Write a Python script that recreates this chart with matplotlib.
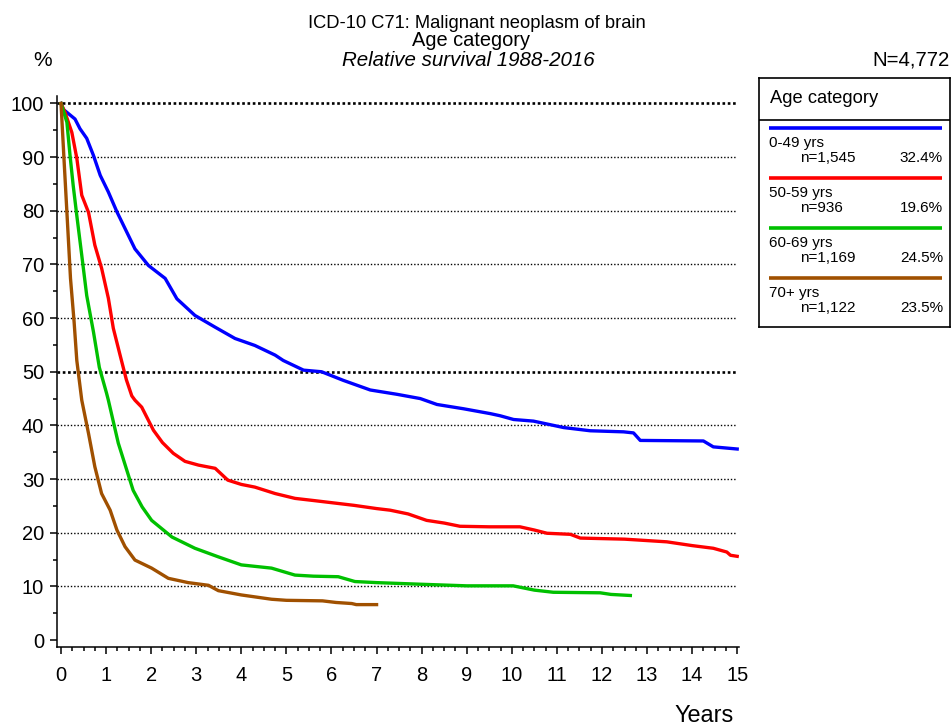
import matplotlib
matplotlib.use("Agg")
import matplotlib.pyplot as plt
from matplotlib.ticker import MultipleLocator

plt.rcParams['font.family'] = ['Liberation Sans', 'DejaVu Sans']

# Relative survival (%) by age category
t_049 = [0, 0.05, 0.31, 0.42, 0.57, 0.72, 0.87, 1.05, 1.24, 1.46, 1.64, 1.94, 2.31,
         2.57, 2.97, 3.42, 3.86, 4.3, 4.75, 4.93, 5.38, 5.78, 6.26, 6.86, 7.45, 7.97,
         8.34, 8.93, 9.52, 9.74, 10.04, 10.48, 11.15, 11.74, 12.48, 12.7, 12.85,
         14.25, 14.47, 15.0]
s_049 = [100, 98.9, 97.1, 95.3, 93.5, 90.3, 86.6, 83.5, 79.8, 76.0, 72.9, 69.8, 67.4,
         63.6, 60.5, 58.3, 56.2, 54.9, 53.1, 52.1, 50.3, 50.0, 48.4, 46.6, 45.8, 45.0,
         43.9, 43.1, 42.2, 41.8, 41.1, 40.8, 39.6, 39.0, 38.8, 38.6, 37.2,
         37.1, 36.0, 35.6]

t_5059 = [0, 0.09, 0.24, 0.35, 0.46, 0.61, 0.75, 0.9, 1.05, 1.16, 1.31, 1.45, 1.57,
          1.64, 1.79, 2.05, 2.25, 2.49, 2.75, 3.05, 3.42, 3.7, 4.0, 4.3, 4.75, 5.19,
          5.6, 6.0, 6.5, 7.0, 7.3, 7.7, 8.11, 8.5, 8.85, 9.5, 10.18, 10.5, 10.78,
          11.3, 11.52, 12.5, 13.44, 14.0, 14.47, 14.77, 14.85, 15.0]
s_5059 = [100, 98.3, 94.6, 89.8, 82.9, 79.7, 73.6, 69.3, 63.7, 58.1, 53.1, 48.5, 45.5,
          44.7, 43.4, 39.1, 36.8, 34.8, 33.3, 32.6, 32.0, 29.8, 29.0, 28.5, 27.3, 26.4,
          26.0, 25.6, 25.1, 24.5, 24.2, 23.5, 22.3, 21.8, 21.2, 21.1, 21.1, 20.5, 19.9,
          19.7, 19.0, 18.8, 18.3, 17.6, 17.1, 16.4, 15.8, 15.6]

t_6069 = [0, 0.13, 0.2, 0.27, 0.35, 0.46, 0.57, 0.72, 0.85, 1.01, 1.05, 1.27, 1.6,
          1.8, 2.01, 2.46, 2.97, 3.49, 4.0, 4.67, 5.19, 5.6, 6.15, 6.52, 7.0, 7.97,
          9.0, 10.03, 10.5, 10.92, 11.96, 12.2, 12.63]
s_6069 = [100, 96.5, 90.3, 84.7, 79.1, 71.7, 64.2, 57.4, 50.8, 46.0, 44.7, 36.7, 27.9,
          24.8, 22.3, 19.2, 17.1, 15.5, 14.0, 13.4, 12.1, 11.9, 11.8, 10.9, 10.7, 10.4,
          10.1, 10.1, 9.3, 8.9, 8.8, 8.5, 8.3]

t_70 = [0, 0.07, 0.15, 0.21, 0.29, 0.35, 0.46, 0.61, 0.75, 0.9, 1.09, 1.24, 1.42,
        1.64, 2.01, 2.38, 2.82, 3.27, 3.49, 4.0, 4.67, 5.0, 5.8, 6.1, 6.45, 6.55, 7.0]
s_70 = [100, 89, 76.7, 67.4, 59.3, 52.1, 44.7, 38.5, 32.3, 27.3, 24.2, 20.5, 17.4,
        14.9, 13.4, 11.5, 10.7, 10.2, 9.2, 8.4, 7.6, 7.4, 7.3, 7.0, 6.8, 6.6, 6.6]

groups = ["0-49 yrs", "50-59 yrs", "60-69 yrs", "70+ yrs"]
group_n = ["n=1,545", "n=936", "n=1,169", "n=1,122"]
group_pct = ["32.4%", "19.6%", "24.5%", "23.5%"]
colors = ["#0000FF", "#FF0000", "#00C000", "#A05000"]
series = [(t_049, s_049), (t_5059, s_5059), (t_6069, s_6069), (t_70, s_70)]

grid_levels = [10, 20, 30, 40, 50, 60, 70, 80, 90, 100]
bold_levels = [50, 100]

W, H = 953, 727
fig = plt.figure(figsize=(W / 100, H / 100), dpi=100)

# main axes placed in pixel terms of the reference
ax = fig.add_axes([56.7 / W, 1 - 647 / H, (739 - 56.7) / W, (647 - 96.5) / H])
ax.set_xlim(-0.096, 15.04)
ax.set_ylim(-1.3, 101.3)

for y in grid_levels:
    if y in bold_levels:
        ax.hlines(y, -0.096, 15.0, colors="black", lw=1.9, linestyles=(0, (1, 1)), zorder=1)
    else:
        ax.hlines(y, -0.096, 15.0, colors="black", lw=1.0, linestyles=(0, (1, 1.4)), zorder=1)

for (t, s), c in zip(series, colors):
    ax.plot(t, s, color=c, lw=2.4, solid_joinstyle="round", zorder=3)

for side in ["top", "right"]:
    ax.spines[side].set_visible(False)
for side in ["left", "bottom"]:
    ax.spines[side].set_linewidth(1.1)

ax.xaxis.set_major_locator(MultipleLocator(1))
ax.xaxis.set_minor_locator(MultipleLocator(0.25))
ax.yaxis.set_major_locator(MultipleLocator(10))
ax.yaxis.set_minor_locator(MultipleLocator(5))
ax.tick_params(axis="x", which="major", length=5, width=1.1, labelsize=14.5, pad=9)
ax.tick_params(axis="x", which="minor", length=3, width=1.1)
ax.tick_params(axis="y", which="major", length=5, width=1.1, labelsize=14.5, pad=4)
ax.tick_params(axis="y", which="minor", length=3, width=1.1)

# titles
fig.text(476.5 / W, 1 - 27.5 / H, "ICD-10 C71: Malignant neoplasm of brain",
         ha="center", va="baseline", fontsize=13.2)
fig.text(471 / W, 1 - 46 / H, "Age category", ha="center", va="baseline", fontsize=14.4)
fig.text(468.5 / W, 1 - 66 / H, "Relative survival 1988-2016", ha="center",
         va="baseline", fontsize=14.8, style="italic")
fig.text(43 / W, 1 - 66 / H, "%", ha="center", va="baseline", fontsize=15)
fig.text(950 / W, 1 - 65 / H, "N=4,772", ha="right", va="baseline", fontsize=14.7)
fig.text(734 / W, 1 - 721.7 / H, "Years", ha="right", va="baseline", fontsize=16.8)

# legend box
lx0, ly0, lx1, ly1 = 759.3, 77.7, 950, 326.7
lg = fig.add_axes([lx0 / W, 1 - ly1 / H, (lx1 - lx0) / W, (ly1 - ly0) / H])
lg.set_xlim(0, lx1 - lx0)
lg.set_ylim(ly1 - ly0, 0)
lg.set_xticks([])
lg.set_yticks([])
for sp in lg.spines.values():
    sp.set_linewidth(1.2)
lg.axhline(42.3, color="black", lw=1.2)
lg.text(10.7, 25.6, "Age category", va="baseline", ha="left", fontsize=13.2)
for i, (name, n, pct, c) in enumerate(zip(groups, group_n, group_pct, colors)):
    y0 = 50 + 50 * i
    lg.plot([9.7, 182.4], [y0, y0], color=c, lw=2.6, solid_capstyle="butt")
    lg.text(9.7, y0 + 19.3, name, va="baseline", ha="left", fontsize=11)
    lg.text(40.7, y0 + 34, n, va="baseline", ha="left", fontsize=11)
    lg.text(183.7, y0 + 34, pct, va="baseline", ha="right", fontsize=11)

fig.savefig("out.png", dpi=100)
